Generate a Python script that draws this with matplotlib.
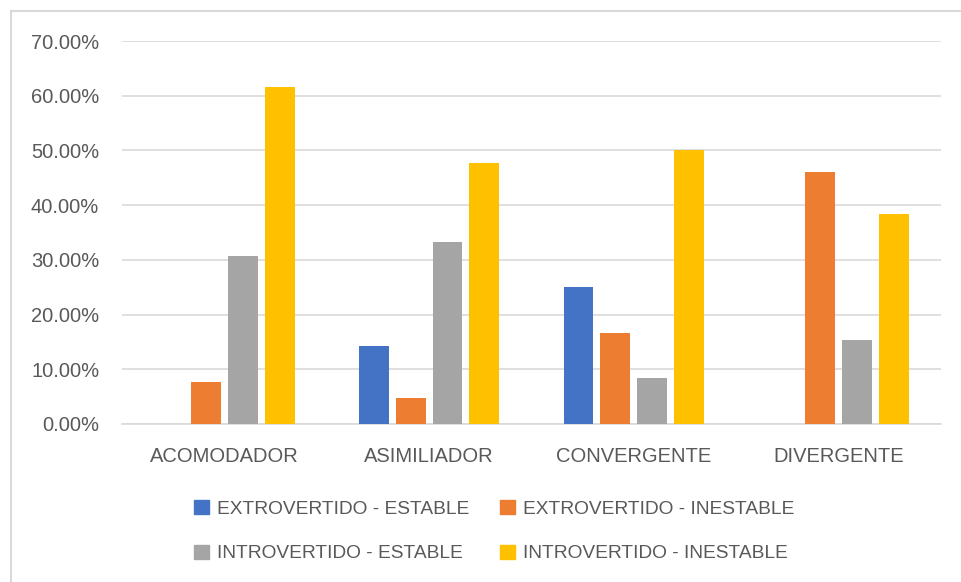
import matplotlib.pyplot as plt
import numpy as np
from matplotlib.ticker import PercentFormatter
from matplotlib.patches import Patch

categories = ['ACOMODADOR', 'ASIMILIADOR', 'CONVERGENTE', 'DIVERGENTE']
series = ['EXTROVERTIDO - ESTABLE', 'EXTROVERTIDO - INESTABLE',
          'INTROVERTIDO - ESTABLE', 'INTROVERTIDO - INESTABLE']
ext_estable = [0.0, 14.29, 25.00, 0.0]
ext_inestable = [7.69, 4.76, 16.67, 46.15]
int_estable = [30.77, 33.33, 8.33, 15.38]
int_inestable = [61.54, 47.62, 50.00, 38.46]
colors = ['#4472C4', '#ED7D31', '#A5A5A5', '#FFC000']

plt.rcParams['font.family'] = ['Liberation Sans', 'DejaVu Sans']
fig = plt.figure(figsize=(9.61, 5.82), dpi=100)
ax = fig.add_axes([0.127, 0.2715, 0.852, 0.658])

x = np.arange(len(categories))
pitch = 0.18
width = 0.146
data = [ext_estable, ext_inestable, int_estable, int_inestable]
for i, vals in enumerate(data):
    ax.bar(x + (i - 1.5) * pitch, vals, width, color=colors[i], zorder=3)

ax.set_xlim(-0.5, 3.5)
ax.set_ylim(0, 70)
ax.set_yticks(np.arange(0, 71, 10))
ax.yaxis.set_major_formatter(PercentFormatter(decimals=2))
ax.set_xticks(x)
ax.set_xticklabels(categories)
ax.grid(axis='y', color='#D9D9D9', linewidth=1.2, zorder=0)
for s in ['top', 'right', 'left']:
    ax.spines[s].set_visible(False)
ax.spines['bottom'].set_color('#D9D9D9')
ax.spines['bottom'].set_linewidth(1.2)
ax.tick_params(axis='both', length=0, labelsize=14.5, colors='#595959')
ax.tick_params(axis='x', pad=16.5)
ax.tick_params(axis='y', pad=16.5)

# row-major order like the original: matplotlib fills legend columns first
order = [0, 2, 1, 3]
handles = [Patch(color=colors[i]) for i in order]
labels = [series[i] for i in order]
fig.legend(handles, labels, loc='center', bbox_to_anchor=(0.5146, 0.087), ncol=2,
           frameon=False, fontsize=13.8, labelcolor='#595959',
           handlelength=0.75, handleheight=0.75, handletextpad=0.45,
           columnspacing=1.6, labelspacing=1.4)

# light border of the chart area (left and top only visible)
fig.add_artist(plt.Line2D([10.5 / 961, 10.5 / 961], [0, 1 - 11 / 582], color='#D9D9D9', lw=1.5))
fig.add_artist(plt.Line2D([10.5 / 961, 1], [1 - 11 / 582, 1 - 11 / 582], color='#D9D9D9', lw=1.5))

fig.savefig('out.png', dpi=100, facecolor='white')
